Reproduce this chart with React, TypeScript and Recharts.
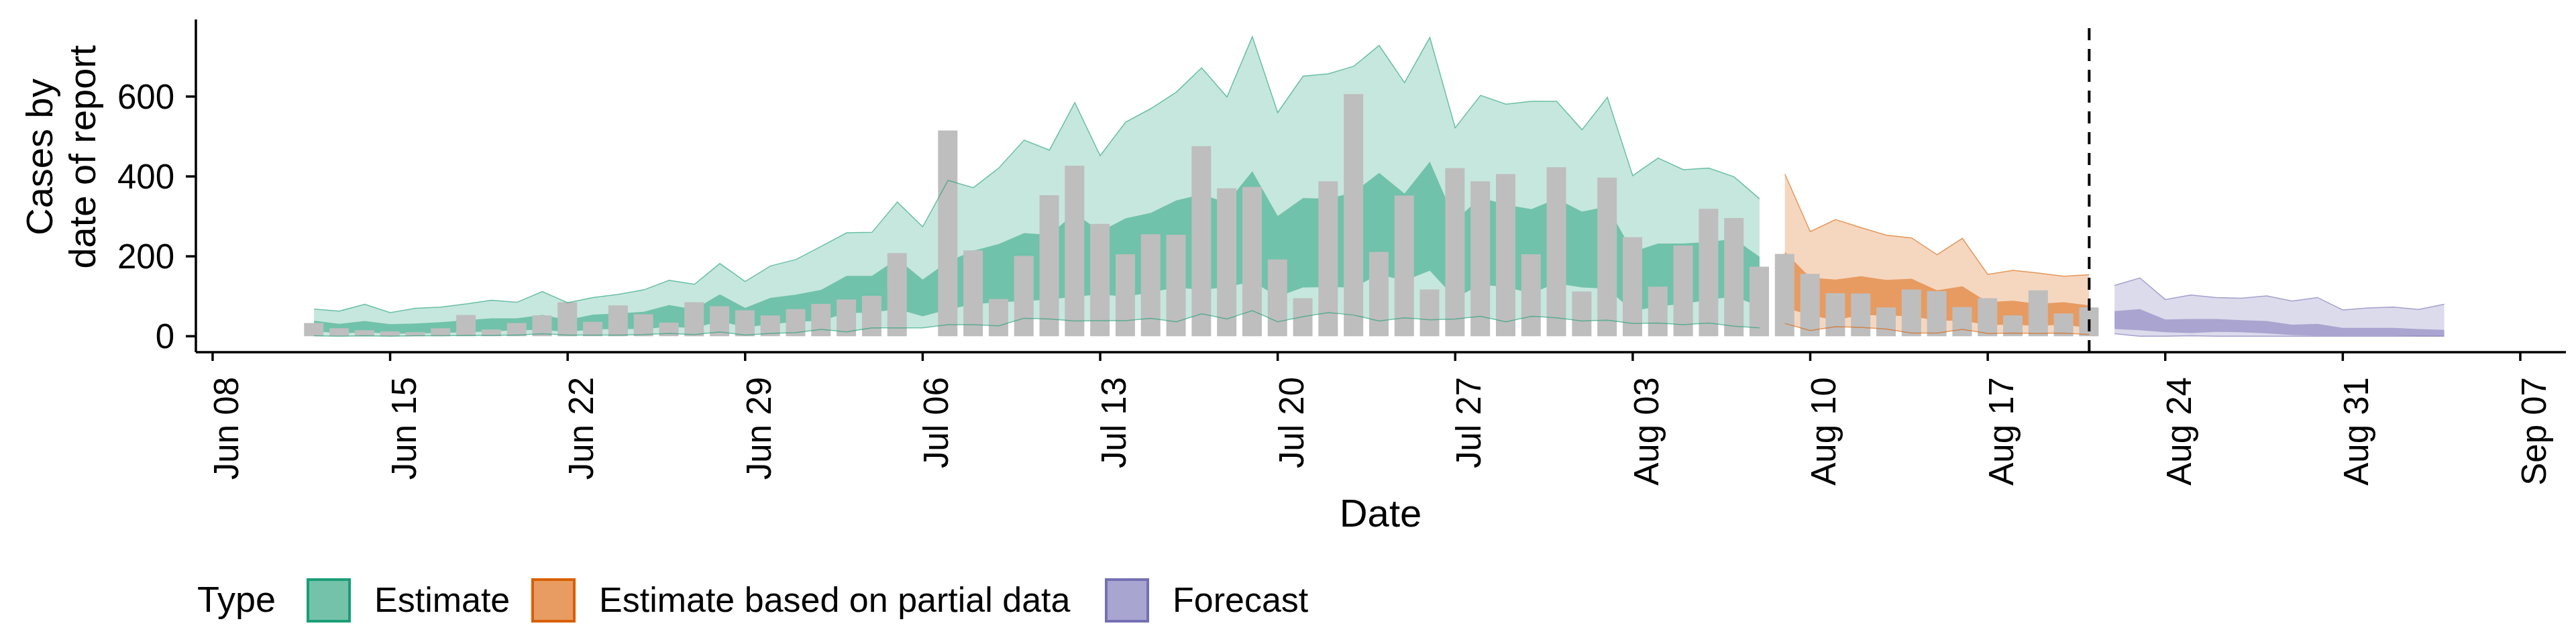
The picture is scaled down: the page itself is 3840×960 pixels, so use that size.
import React from "react";
import { ComposedChart, Area, Line, Bar, XAxis, YAxis, ReferenceLine } from "recharts";

const startDay = 4; // Jun 12 (day 0 = Jun 08)
const tickDays = [0, 7, 14, 21, 28, 35, 42, 49, 56, 63, 70, 77, 84, 91];
const tickLabels = ["Jun 08", "Jun 15", "Jun 22", "Jun 29", "Jul 06", "Jul 13", "Jul 20", "Jul 27", "Aug 03", "Aug 10", "Aug 17", "Aug 24", "Aug 31", "Sep 07"];
const yTicks = [0, 200, 400, 600];

// reported cases Jun 12 .. Aug 21
const cases = [33, 20, 15, 12, 10, 20, 53, 17, 33, 52, 85, 36, 77,
  55, 34, 85, 75, 65, 52, 68, 81, 92, 101, 208, 0, 515, 215,
  93, 201, 353, 427, 281, 205, 255, 254, 476, 370, 374, 192, 95,
  388, 606, 211, 352, 117, 421, 388, 406, 205, 423, 112, 397, 248,
  124, 227, 319, 296, 174, 206, 156, 108, 107, 72, 117, 113, 73,
  95, 52, 115, 57, 72];

// Estimate Jun 12 .. Aug 08
const g90hi = [68, 63, 80, 59, 70, 73, 81, 90, 85, 112, 84, 97, 105, 116, 140, 130, 182, 137, 176, 192, 225, 259, 260, 336, 274, 390, 372, 421, 491, 466, 585, 452, 536, 570, 611, 672, 599, 750, 560, 651, 657, 676, 728, 635, 748, 522, 603, 581, 588, 588, 517, 598, 402, 446, 417, 421, 399, 344];
const g50hi = [39, 31, 38, 30, 32, 35, 40, 45, 45, 53, 41, 54, 57, 61, 78, 67, 105, 71, 96, 104, 116, 151, 151, 194, 142, 187, 214, 231, 258, 254, 308, 262, 295, 309, 340, 355, 334, 413, 301, 346, 344, 360, 409, 357, 437, 290, 347, 329, 318, 344, 312, 325, 211, 232, 232, 236, 244, 199];
const g50lo = [13, 7, 10, 6, 7, 8, 10, 12, 15, 16, 11, 17, 18, 18, 24, 20, 38, 22, 30, 36, 39, 58, 59, 68, 50, 67, 80, 85, 88, 92, 99, 105, 99, 110, 122, 116, 123, 137, 99, 122, 123, 122, 155, 139, 164, 95, 129, 123, 108, 132, 122, 119, 63, 75, 81, 91, 100, 74];
const g90lo = [1, 0, 1, 0, 1, 1, 2, 2, 3, 6, 3, 3, 3, 4, 7, 4, 11, 3, 7, 9, 17, 11, 21, 21, 21, 29, 29, 26, 45, 43, 38, 39, 39, 45, 36, 56, 43, 64, 36, 49, 59, 53, 38, 46, 41, 43, 50, 36, 50, 46, 38, 40, 32, 33, 29, 33, 25, 21];

// Estimate based on partial data Aug 09 .. Aug 21
const oStart = 62;
const o90hi = [406, 262, 292, 272, 253, 246, 204, 245, 155, 165, 158, 150, 154];
const o50hi = [211, 147, 142, 150, 141, 144, 115, 125, 85, 89, 81, 85, 77];
const o50lo = [72, 52, 40, 53, 52, 50, 39, 39, 28, 29, 26, 29, 21];
const o90lo = [32, 14, 24, 22, 18, 8, 8, 17, 7, 8, 7, 8, 4];

// Forecast Aug 22 .. Sep 04
const pStart = 75;
const p90hi = [127, 146, 92, 103, 97, 95, 101, 88, 97, 66, 71, 73, 67, 80];
const p50hi = [63, 68, 42, 43, 43, 40, 38, 29, 31, 21, 21, 21, 18, 16];
const p50lo = [18, 15, 10, 8, 11, 10, 7, 3, 1, 1, 1, 1, 0, 0];
const p90lo = [6, 0, 0, 1, 0, 0, 0, 0, 0, 0, 0, 0, 0, 0];

const GREEN = "#1b9e77", ORANGE = "#d95f02", PURPLE = "#7570b3";

const rows: any[] = [];
for (let d = startDay; d <= 88; d++) {
  const r: any = { d };
  const ci = d - startDay;
  if (ci < cases.length) r.cases = cases[ci];
  const gi = d - startDay;
  if (gi < g90hi.length) {
    r.g90 = [g90lo[gi], g90hi[gi]]; r.g50 = [g50lo[gi], g50hi[gi]]; r.g90h = g90hi[gi]; r.g90l = g90lo[gi];
  }
  const oi = d - oStart;
  if (oi >= 0 && oi < o90hi.length) {
    r.o90 = [o90lo[oi], o90hi[oi]]; r.o50 = [o50lo[oi], o50hi[oi]]; r.o90h = o90hi[oi]; r.o90l = o90lo[oi];
  }
  const pi = d - pStart;
  if (pi >= 0 && pi < p90hi.length) {
    r.p90 = [p90lo[pi], p90hi[pi]]; r.p50 = [p50lo[pi], p50hi[pi]]; r.p90h = p90hi[pi]; r.p90l = p90lo[pi];
  }
  rows.push(r);
}

const FONT = "'Liberation Sans', Arial, Helvetica, sans-serif";

const XTick = (props: any) => {
  const { x, payload } = props;
  const i = tickDays.indexOf(payload.value);
  return (
    <text transform={`translate(${x + 38},562) rotate(-90)`} textAnchor="end" fontSize={51} fontFamily={FONT} fill="#000">
      {tickLabels[i]}
    </text>
  );
};
const YTick = (props: any) => {
  const { y, payload } = props;
  return (
    <text x={260} y={y + 18} textAnchor="end" fontSize={51} fontFamily={FONT} fill="#000">{payload.value}</text>
  );
};

const band = (key: string, color: string, op: number) => (
  <Area key={key} dataKey={key} type="linear" fill={color} fillOpacity={op} stroke="none" isAnimationActive={false} connectNulls={false} dot={false} activeDot={false} />
);
const edge = (key: string, color: string) => (
  <Line key={key} dataKey={key} type="linear" stroke={color} strokeOpacity={0.6} strokeWidth={1.5} dot={false} activeDot={false} isAnimationActive={false} connectNulls={false} />
);

const legendItems = [
  { label: "Estimate", x: 457, tx: 558, fill: "#73c2a9", stroke: GREEN },
  { label: "Estimate based on partial data", x: 792, tx: 893, fill: "#e89c61", stroke: ORANGE },
  { label: "Forecast", x: 1647, tx: 1748, fill: "#a8a5d0", stroke: PURPLE },
];

export default function App() {
  return (
    <div style={{ position: "absolute", left: 0, top: 0, width: 3840, height: 960, background: "#fff" }}>
      <ComposedChart width={3840} height={960} data={rows} margin={{ top: 29, right: 15, left: 0, bottom: 0 }}>
        <XAxis dataKey="d" type="number" domain={[-0.66, 92.8]} ticks={tickDays} allowDataOverflow height={435}
          axisLine={{ stroke: "#000", strokeWidth: 3.5 }} tickLine={{ stroke: "#000", strokeWidth: 3.5 }} tickSize={13} tick={<XTick />} interval={0} />
        <YAxis type="number" domain={[-40, 793]} ticks={yTicks} allowDataOverflow width={292}
          axisLine={{ stroke: "#000", strokeWidth: 3.5 }} tickLine={{ stroke: "#000", strokeWidth: 3.5 }} tickSize={15} tick={<YTick />} interval={0} />
        <Bar dataKey="cases" fill="#bebebe" barSize={29} isAnimationActive={false} />
        {band("g90", GREEN, 0.25)}
        {band("g50", GREEN, 0.5)}
        {edge("g90h", GREEN)}
        {edge("g90l", GREEN)}
        {band("o90", ORANGE, 0.25)}
        {band("o50", ORANGE, 0.5)}
        {edge("o90h", ORANGE)}
        {edge("o90l", ORANGE)}
        {band("p90", PURPLE, 0.25)}
        {band("p50", PURPLE, 0.5)}
        {edge("p90h", PURPLE)}
        {edge("p90l", PURPLE)}
        <ReferenceLine x={74} stroke="#000" strokeWidth={4} strokeDasharray="18 13" />
      </ComposedChart>
      <svg width={3840} height={960} style={{ position: "absolute", left: 0, top: 0, pointerEvents: "none" }}>
        <text transform="translate(78,234) rotate(-90)" textAnchor="middle" fontSize={56} fontFamily={FONT} fill="#000">Cases by</text>
        <text transform="translate(142,234) rotate(-90)" textAnchor="middle" fontSize={56} fontFamily={FONT} fill="#000">date of report</text>
        <text x={2058} y={785} textAnchor="middle" fontSize={58} fontFamily={FONT} fill="#000">Date</text>
        <text x={294} y={912} fontSize={54} fontFamily={FONT} fill="#000">Type</text>
        {legendItems.map((it) => (
          <g key={it.label}>
            <rect x={it.x + 2} y={864} width={62} height={62} fill={it.fill} stroke={it.stroke} strokeWidth={4} />
            <text x={it.tx} y={912} fontSize={52} fontFamily={FONT} fill="#000">{it.label}</text>
          </g>
        ))}
      </svg>
    </div>
  );
}
